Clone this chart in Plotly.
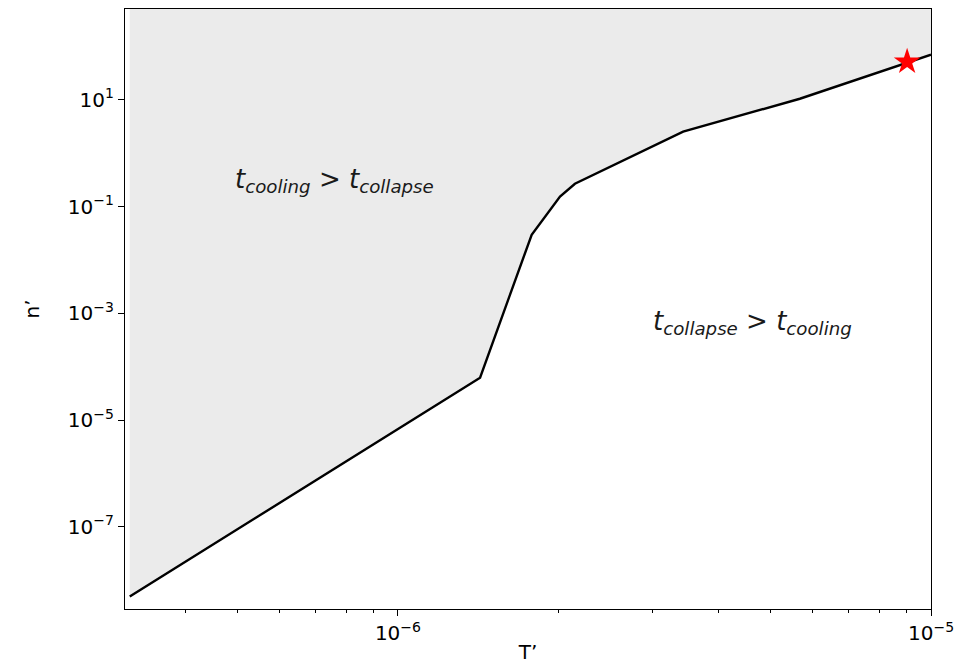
import plotly.graph_objects as go
import numpy as np

# Boundary curve
T_boundary = [3.14e-7, 1.426e-6, 1.782e-6, 2.014e-6, 2.148e-6, 3.428e-6, 5.675e-6, 1.0e-5]
n_boundary = [4.93e-9, 6.22e-5, 0.0296, 0.153, 0.267, 2.52, 10.45, 69.7]

# Marked point
T_star = [9.02e-6]
n_star = [51.5]

x_tick_vals = [1e-6, 1e-5]
x_tick_text = ["10<sup>−6</sup>", "10<sup>−5</sup>"]
y_tick_vals = [1e1, 1e-1, 1e-3, 1e-5, 1e-7]
y_tick_text = ["10<sup>1</sup>", "10<sup>−1</sup>", "10<sup>−3</sup>", "10<sup>−5</sup>", "10<sup>−7</sup>"]
x_minor = [4e-7, 5e-7, 6e-7, 7e-7, 8e-7, 9e-7,
           2e-6, 3e-6, 4e-6, 5e-6, 6e-6, 7e-6, 8e-6, 9e-6]

x_range_log = [-6.512, -5.0]
y_range_log = [-8.54, 2.70]
y_top = 10 ** y_range_log[1]

fig = go.Figure()
# base (invisible) for fill
fig.add_trace(go.Scatter(x=T_boundary, y=n_boundary, mode="lines",
                         line=dict(width=0, color="rgba(0,0,0,0)"),
                         showlegend=False, hoverinfo="skip"))
fig.add_trace(go.Scatter(x=T_boundary, y=[y_top] * len(T_boundary), mode="lines",
                         line=dict(width=0, color="rgba(0,0,0,0)"),
                         fill="tonexty", fillcolor="#ebebeb",
                         showlegend=False, hoverinfo="skip"))
fig.add_trace(go.Scatter(x=T_boundary, y=n_boundary, mode="lines",
                         line=dict(width=2.4, color="black"),
                         showlegend=False))
fig.add_trace(go.Scatter(x=T_star, y=n_star, mode="markers",
                         marker=dict(symbol="star", size=20, color="red",
                                     line=dict(width=0)),
                         showlegend=False))

font_family = "DejaVu Sans"
fig.add_annotation(xref="paper", yref="paper", x=0.2605, y=0.715,
                   xanchor="center", yanchor="middle",
                   text="<i>t</i><sub><i>cooling</i></sub> > <i>t</i><sub><i>collapse</i></sub>",
                   showarrow=False, font=dict(family=font_family, size=26, color="#1a1a1a"))
fig.add_annotation(xref="paper", yref="paper", x=0.778, y=0.477,
                   xanchor="center", yanchor="middle",
                   text="<i>t</i><sub><i>collapse</i></sub> > <i>t</i><sub><i>cooling</i></sub>",
                   showarrow=False, font=dict(family=font_family, size=26, color="#1a1a1a"))

fig.update_layout(
    width=957, height=664,
    margin=dict(l=125, r=26, t=9, b=55),
    plot_bgcolor="white", paper_bgcolor="white",
    font=dict(family=font_family, size=20, color="black"),
    xaxis=dict(type="log", range=x_range_log, automargin=False,
               tickmode="array", tickvals=x_tick_vals, ticktext=x_tick_text,
               ticks="outside", ticklen=6, tickwidth=1, tickcolor="black",
               minor=dict(ticks="outside", ticklen=3, tickwidth=1, tickcolor="black",
                          tickmode="array", tickvals=x_minor, showgrid=False),
               showgrid=False, zeroline=False,
               showline=True, linecolor="black", linewidth=1.2, mirror=True,
               title=dict(text="T’", font=dict(size=20), standoff=4)),
    yaxis=dict(type="log", range=y_range_log, automargin=False,
               tickmode="array", tickvals=y_tick_vals, ticktext=y_tick_text,
               ticks="outside", ticklen=6, tickwidth=1, tickcolor="black",
               showgrid=False, zeroline=False,
               showline=True, linecolor="black", linewidth=1.2, mirror=True,
               title=dict(text="n’", font=dict(size=20), standoff=22)),
)

fig.write_html("out.html", config={"displayModeBar": False},
               post_script="document.body.style.margin='0px';")
